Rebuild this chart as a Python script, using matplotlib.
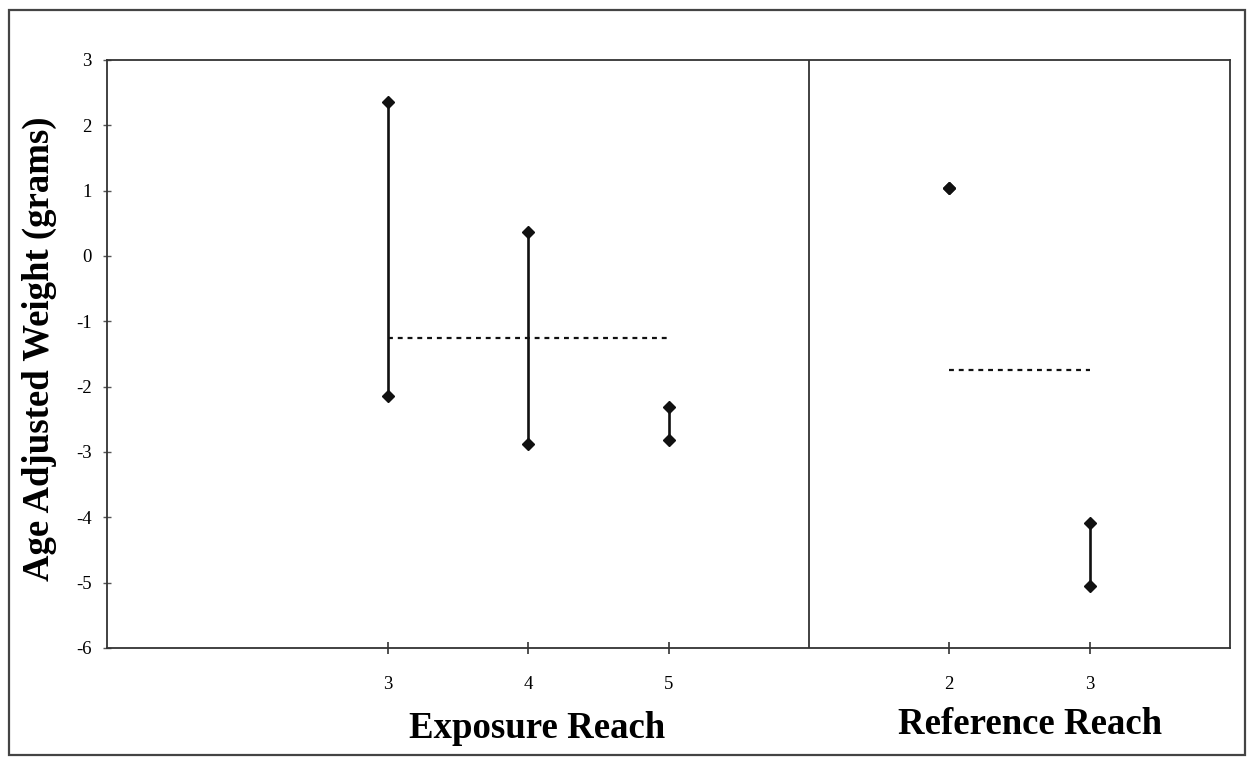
import matplotlib
matplotlib.use("Agg")
import matplotlib.pyplot as plt
from matplotlib.patches import Rectangle

# Group layout on a shared x scale: exposure reaches left, reference reaches right
exposure_reaches = ["3", "4", "5"]
exposure_pos = [2, 3, 4]
exposure_high = [2.35, 0.37, -2.31]
exposure_low = [-2.15, -2.87, -2.81]
exposure_mean = -1.26

reference_reaches = ["2", "3"]
reference_pos = [6, 7]
reference_high = [1.04, -4.09]
reference_low = [1.04, -5.05]
reference_mean = -1.75

divider_x = 5
y_ticks = [3, 2, 1, 0, -1, -2, -3, -4, -5, -6]

plt.rcParams["font.family"] = ["Liberation Serif", "DejaVu Serif"]

fig = plt.figure(figsize=(12.49, 7.57), dpi=100)
fig.patch.set_facecolor("white")
fig.patches.append(Rectangle((9 / 1249, 2 / 757), 1236 / 1249, 745 / 757,
                             transform=fig.transFigure, fill=False,
                             edgecolor="#444444", linewidth=1.6))

ax = fig.add_axes([107 / 1249, 109 / 757, 1123 / 1249, 588 / 757])
ax.set_xlim(0, 8)
ax.set_ylim(-6, 3)

ink = "#111111"
for x, hi, lo in zip(exposure_pos + reference_pos,
                     exposure_high + reference_high,
                     exposure_low + reference_low):
    ax.plot([x, x], [lo, hi], color=ink, linewidth=1.9, zorder=3,
            marker="D", markersize=6.5, markerfacecolor=ink,
            markeredgecolor=ink, clip_on=False)

ax.plot([exposure_pos[0], exposure_pos[-1]], [exposure_mean, exposure_mean],
        color=ink, linewidth=1.6, linestyle=(0, (2.2, 2.2)), zorder=2)
ax.plot([reference_pos[0], reference_pos[-1]], [reference_mean, reference_mean],
        color=ink, linewidth=1.6, linestyle=(0, (2.2, 2.2)), zorder=2)

ax.axvline(divider_x, color="#333333", linewidth=1.3)

ax.set_xticks(exposure_pos + reference_pos)
ax.set_xticklabels(exposure_reaches + reference_reaches)
ax.set_yticks(y_ticks)
ax.set_yticklabels([str(v) for v in y_ticks])

for s in ax.spines.values():
    s.set_color("#333333")
    s.set_linewidth(1.3)

ax.tick_params(axis="x", direction="inout", length=8, width=1.2,
               color="#333333", labelsize=13.5, pad=16)
ax.tick_params(axis="y", direction="inout", length=6, width=1.0,
               color="#555555", labelsize=13.5, pad=8)

fig.text(537 / 1249, 1 - 728 / 757, "Exposure Reach", ha="center", va="center",
         fontsize=26.5, fontweight="bold")
fig.text(1030 / 1249, 1 - 725 / 757, "Reference Reach", ha="center", va="center",
         fontsize=26.5, fontweight="bold")
fig.text(39 / 1249, 1 - 349 / 757, "Age Adjusted Weight (grams)", ha="center",
         va="center", rotation=90, fontsize=26.5, fontweight="bold")

fig.savefig("out.png", dpi=100)
